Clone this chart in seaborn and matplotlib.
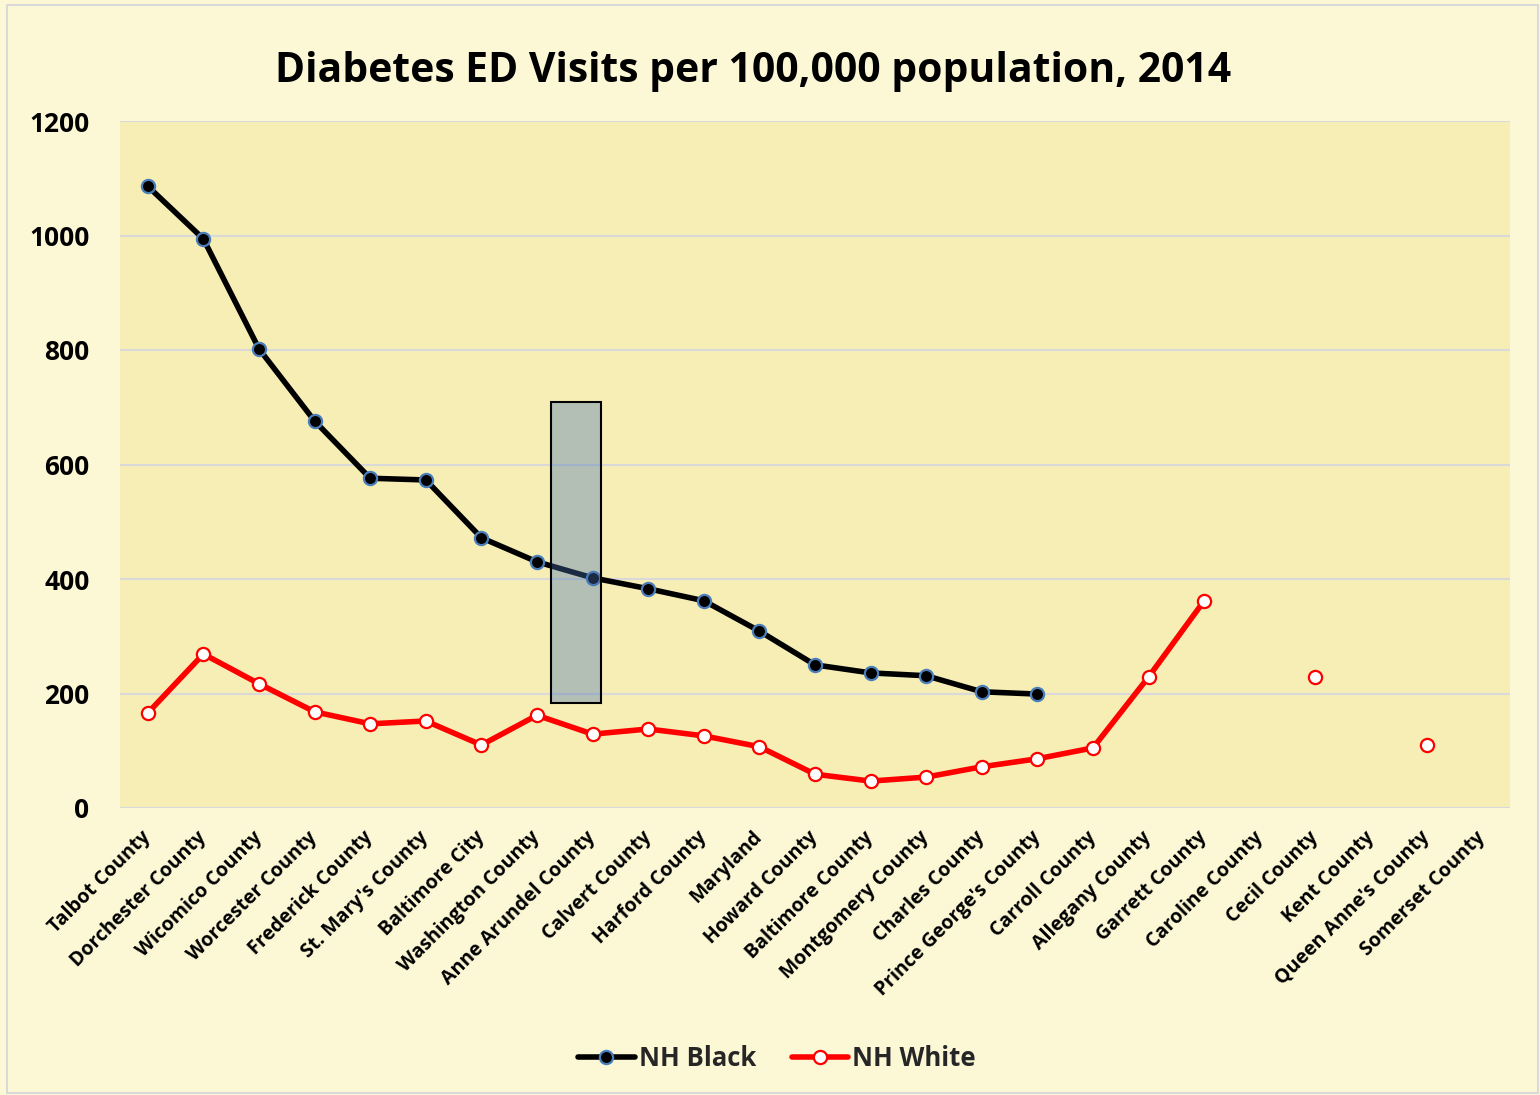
import numpy as np
import pandas as pd
import matplotlib
matplotlib.use("Agg")
import matplotlib.pyplot as plt
from matplotlib.patches import Rectangle
from matplotlib.lines import Line2D
import seaborn as sns

# Counties, ordered by NH Black rate
counties = [
    "Talbot County", "Dorchester County", "Wicomico County", "Worcester County",
    "Frederick County", "St. Mary's County", "Baltimore City", "Washington County",
    "Anne Arundel County", "Calvert County", "Harford County", "Maryland",
    "Howard County", "Baltimore County", "Montgomery County", "Charles County",
    "Prince George's County", "Carroll County", "Allegany County", "Garrett County",
    "Caroline County", "Cecil County", "Kent County", "Queen Anne's County",
    "Somerset County",
]

nan = np.nan
nh_black = [1086, 994, 802, 676, 576, 573, 472, 430, 402, 383, 362, 309,
            250, 236, 231, 203, 199, nan, nan, nan, nan, nan, nan, nan, nan]
nh_white = [166, 269, 217, 168, 147, 152, 110, 162, 129, 138, 126, 107,
            59, 47, 54, 72, 86, 105, 229, 362, nan, 229, nan, 110, nan]

# Highlight box (x range in category units, y range in rate units)
box_x = (7.25, 8.15)
box_y = (183, 709)

yticks = [0, 200, 400, 600, 800, 1000, 1200]

sns.set_theme(style="white")
plt.rcParams["font.family"] = ["Open Sans", "DejaVu Sans"]
plt.rcParams["font.weight"] = "bold"

W, H = 1540, 1095
fig = plt.figure(figsize=(W / 100, H / 100), dpi=100)
fig.patch.set_facecolor("#fcf8d6")
fig.patches.append(Rectangle((7 / W, 1 - 1093 / H), (1538 - 7) / W, (1093 - 5) / H,
                             transform=fig.transFigure, fill=False,
                             edgecolor="#d9d9d9", linewidth=1.5))

ax = fig.add_axes([120 / W, 1 - 808 / H, 1390 / W, 687 / H])
ax.set_facecolor("#f7eeb6")

df = pd.DataFrame({
    "pos": np.arange(len(counties)),
    "county": counties,
    "NH Black": nh_black,
    "NH White": nh_white,
})

styles = {
    "NH Black": dict(color="black", mfc="black", mec="#4a7ebb"),
    "NH White": dict(color="#ff0000", mfc="white", mec="#ff0000"),
}


def runs(series):
    """Split a series into contiguous non-missing stretches."""
    mask = series.notna().to_numpy()
    out, start = [], None
    for i, m in enumerate(mask):
        if m and start is None:
            start = i
        if not m and start is not None:
            out.append((start, i))
            start = None
    if start is not None:
        out.append((start, len(mask)))
    return out


for name, st in styles.items():
    for a, b in runs(df[name]):
        part = df.iloc[a:b]
        sns.lineplot(data=part, x="pos", y=name, ax=ax, color=st["color"],
                     linewidth=4.0, marker="o", markersize=9.5,
                     markerfacecolor=st["mfc"], markeredgecolor=st["mec"],
                     markeredgewidth=1.6, zorder=3)

ax.add_patch(Rectangle((box_x[0], box_y[0]), box_x[1] - box_x[0], box_y[1] - box_y[0],
                       facecolor="#4670b3", alpha=0.38, edgecolor="none", zorder=4))
ax.add_patch(Rectangle((box_x[0], box_y[0]), box_x[1] - box_x[0], box_y[1] - box_y[0],
                       facecolor="none", edgecolor="black", linewidth=1.5, zorder=5))

ax.set_xlim(-0.5, len(counties) - 0.5)
ax.set_ylim(0, 1200)
ax.set_yticks(yticks)
ax.set_yticklabels([str(v) for v in yticks], fontsize=19, fontweight="bold")
ax.set_xticks(df["pos"])
ax.set_xticklabels(counties, rotation=45, ha="right", va="center",
                   rotation_mode="anchor", fontsize=14, fontweight="bold")
ax.tick_params(axis="y", length=0, pad=22, colors="black")
ax.tick_params(axis="x", length=0, pad=19, colors="black")
ax.set_xlabel("")
ax.set_ylabel("")
ax.grid(axis="y", color="#d9d9d9", linewidth=1.5)
ax.grid(axis="x", visible=False)
ax.set_axisbelow(True)
for s in ax.spines.values():
    s.set_visible(False)

fig.text(753 / W, 1 - 71 / H, "Diabetes ED Visits per 100,000 population, 2014",
         ha="center", va="center", fontsize=29.4, fontweight="bold", color="black")

handles = [Line2D([], [], color=st["color"], linewidth=4.0, marker="o", markersize=9.5,
                  markerfacecolor=st["mfc"], markeredgecolor=st["mec"],
                  markeredgewidth=1.6) for st in styles.values()]
fig.legend(handles, list(styles.keys()), loc="center", bbox_to_anchor=(777 / W, 1 - 1058 / H),
           ncol=2, frameon=False, handlelength=2.2, handletextpad=0.15,
           columnspacing=1.4, prop={"weight": "bold", "size": 18.5})

fig.savefig("out.png", dpi=100, facecolor=fig.get_facecolor())
